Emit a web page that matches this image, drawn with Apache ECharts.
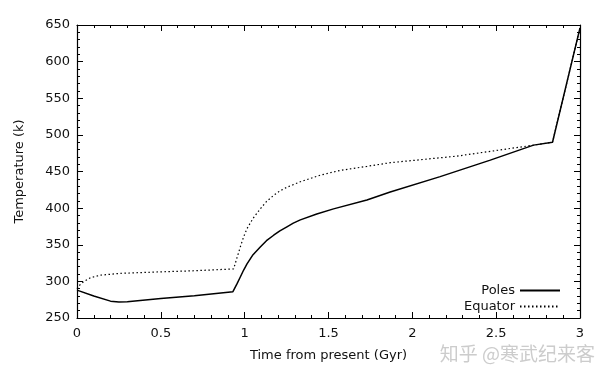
<!DOCTYPE html>
<html>
<head>
<meta charset="utf-8">
<script src="https://cdn.jsdelivr.net/npm/echarts@6/dist/echarts.min.js"></script>
<style>html,body{margin:0;padding:0;background:#fff}#c{width:611px;height:382px}</style>
</head>
<body>
<div id="c"></div>
<script>
const polesTime = [0, 0.1, 0.2, 0.25, 0.3, 0.5, 0.7, 0.93, 0.954, 0.974, 0.994, 1.014, 1.05, 1.093, 1.13, 1.173, 1.21, 1.252, 1.29, 1.332, 1.43, 1.53, 1.729, 1.868, 2.166, 2.465, 2.723, 2.836, 3.0];
const polesTemp = [288, 280, 273, 272, 272.2, 276.5, 280.5, 286, 296.5, 306, 315.5, 324, 336.5, 347, 355.5, 363, 369, 374.5, 379.5, 384, 392, 399, 411, 422, 443, 465.5, 486, 490, 646];
const equatorTime = [0, 0.02, 0.04, 0.08, 0.14, 0.26, 0.5, 0.7, 0.934, 0.954, 0.974, 0.994, 1.014, 1.05, 1.093, 1.13, 1.173, 1.21, 1.252, 1.332, 1.451, 1.57, 1.729, 1.868, 2.266, 2.663, 2.723, 2.836, 3.0];
const equatorTemp = [290, 296, 299.5, 305, 308.5, 311, 313, 314.5, 317, 332, 347, 361, 372, 386, 399, 409, 417.5, 423.5, 428.5, 436, 445, 451.5, 457, 462, 471, 484, 486, 490, 646];
const seriesNames = ['Poles', 'Equator'];
const xTitle = 'Time from present (Gyr)';
const yTitle = 'Temperature (k)';
const watermark = '知乎 @寒武纪来客';

const zip = (a, b) => a.map((v, i) => [v, b[i]]);
const font = 'DejaVu Sans';
const tickCommon = {
  axisLine: { show: true, onZero: false, lineStyle: { color: '#000', width: 1.2 } },
  axisTick: { show: true, inside: true, length: 6, lineStyle: { color: '#000' } },
  minorTick: { show: true, splitNumber: 5, length: 3, lineStyle: { color: '#000' } },
  splitLine: { show: false }
};
const chart = echarts.init(document.getElementById('c'), null, { renderer: 'canvas' });
chart.setOption({
  animation: false,
  backgroundColor: '#fff',
  grid: { left: 77, right: 31, top: 25, bottom: 64, containLabel: false },
  xAxis: [
    Object.assign({
      type: 'value', min: 0, max: 3, interval: 0.5, position: 'bottom',
      name: xTitle, nameLocation: 'middle', nameGap: 31,
      nameTextStyle: { fontFamily: font, fontSize: 13, color: '#111' },
      axisLabel: { fontFamily: font, fontSize: 13, color: '#111', margin: 9,
        formatter: v => String(v) }
    }, tickCommon),
    Object.assign({
      type: 'value', min: 0, max: 3, interval: 0.5, position: 'top',
      axisLabel: { show: false }
    }, tickCommon)
  ],
  yAxis: [
    Object.assign({
      type: 'value', min: 250, max: 650, interval: 50, position: 'left',
      name: yTitle, nameLocation: 'middle', nameGap: 51,
      nameTextStyle: { fontFamily: font, fontSize: 13, color: '#111' },
      axisLabel: { fontFamily: font, fontSize: 13, color: '#111', margin: 7 }
    }, tickCommon),
    Object.assign({
      type: 'value', min: 250, max: 650, interval: 50, position: 'right',
      axisLabel: { show: false }
    }, tickCommon)
  ],
  legend: {
    orient: 'vertical', right: 45, top: 279, align: 'right',
    itemWidth: 40, itemHeight: 10, itemGap: 3,
    itemStyle: { opacity: 0 },
    textStyle: { fontFamily: font, fontSize: 13, color: '#111' },
    data: seriesNames
  },
  graphic: [{
    type: 'text', right: 16, top: 344,
    style: { text: watermark, fill: '#cccccc', fontSize: 19,
      fontFamily: 'Noto Sans CJK SC' }
  }],
  series: [
    { name: seriesNames[0], type: 'line', data: zip(polesTime, polesTemp),
      showSymbol: false, symbol: 'none', smooth: false,
      lineStyle: { color: '#000', width: 1.5, type: 'solid' },
      itemStyle: { color: '#000' } },
    { name: seriesNames[1], type: 'line', data: zip(equatorTime, equatorTemp),
      showSymbol: false, symbol: 'none', smooth: false,
      lineStyle: { color: '#000', width: 1.2, type: [1.5, 2.5] },
      itemStyle: { color: '#000' } }
  ]
});
</script>
</body>
</html>
